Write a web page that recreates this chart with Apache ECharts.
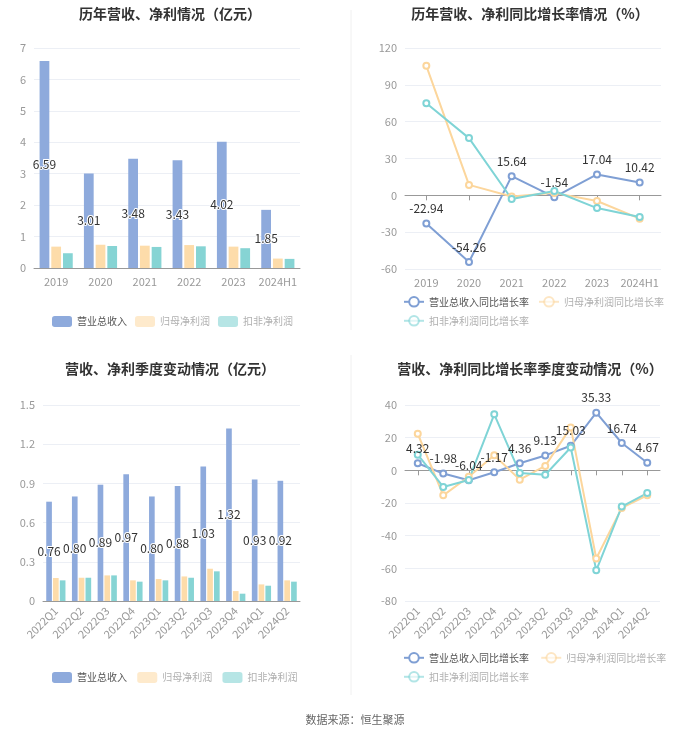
<!DOCTYPE html>
<html><head><meta charset="utf-8">
<script src="https://cdn.jsdelivr.net/npm/echarts@6/dist/echarts.min.js"></script>
<style>html,body{margin:0;padding:0;background:#fff}#c{width:700px;height:734px}</style>
</head><body><div id="c"></div>
<script>
const years = ['2019','2020','2021','2022','2023','2024H1'];
const yearRevenue = [6.59, 3.01, 3.48, 3.43, 4.02, 1.85];
const yearNetProfit = [0.68, 0.74, 0.71, 0.73, 0.68, 0.30];
const yearDeductProfit = [0.47, 0.70, 0.67, 0.69, 0.63, 0.29];
const yearRevenueGrowth = [-22.94, -54.26, 15.64, -1.54, 17.04, 10.42];
const yearNetGrowth = [105.5, 8.5, -1.0, 2.0, -4.6, -19.0];
const yearDeductGrowth = [75.0, 46.6, -3.0, 3.5, -10.4, -17.7];
const quarters = ['2022Q1','2022Q2','2022Q3','2022Q4','2023Q1','2023Q2','2023Q3','2023Q4','2024Q1','2024Q2'];
const qRevenue = [0.76, 0.80, 0.89, 0.97, 0.80, 0.88, 1.03, 1.32, 0.93, 0.92];
const qNetProfit = [0.176, 0.178, 0.196, 0.158, 0.168, 0.188, 0.247, 0.076, 0.127, 0.158];
const qDeductProfit = [0.158, 0.178, 0.196, 0.148, 0.158, 0.178, 0.227, 0.056, 0.117, 0.148];
const qRevenueGrowth = [4.32, -1.98, -6.04, -1.17, 4.36, 9.13, 15.03, 35.33, 16.74, 4.67];
const qNetGrowth = [22.4, -15.3, -3.9, 9.2, -5.7, 2.7, 26.3, -54.0, -23.0, -15.3];
const qDeductGrowth = [9.6, -10.2, -5.9, 34.3, -1.6, -2.7, 14.0, -61.2, -22.2, -13.9];
const barNames = ['营业总收入','归母净利润','扣非净利润'];
const lineNames = ['营业总收入同比增长率','归母净利润同比增长率','扣非净利润同比增长率'];

const FONT = '"Noto Sans CJK SC", "Noto Sans", sans-serif';
const C_BLUE = '#8eaadc', C_ORANGE = '#fddcaa', C_TEAL = '#86d4d4';
const L_BLUE = '#7f9fd4', L_ORANGE = '#fcd69c', L_TEAL = '#7fd4d6';
const axisLabel = {color:'#999', fontSize:11, fontFamily:FONT};
const splitLine = {show:true, lineStyle:{color:'#eceff5'}};

const chart = echarts.init(document.getElementById('c'));
const grids = [
  {left:34, top:48, width:266, height:220},
  {left:405, top:48, width:256, height:221},
  {left:43, top:405, width:257, height:196},
  {left:405, top:405, width:255, height:196}
];
function title(text, x, y){ return {text, left:x, top:y, textAlign:'center', textStyle:{fontSize:14, fontWeight:'bold', color:'#333', fontFamily:FONT}}; }
const barLabel = {show:true, position:'inside', color:'#333', fontSize:12, fontFamily:FONT, textBorderColor:'#fff', textBorderWidth:2, formatter:p=>p.value.toFixed(2)};
const lineLabel = {show:true, position:'top', color:'#333', fontSize:12, fontFamily:FONT, formatter:p=>p.value.toFixed(2)};

function barSeries(name, data, color, xi, label){
  const s = {name, type:'bar', data, xAxisIndex:xi, yAxisIndex:xi, barWidth:'22%', barGap:'20%', itemStyle:{color}};
  if(label) s.label = barLabel;
  return s;
}
function lineSeries(name, data, color, xi, label){
  const s = {name, type:'line', data, xAxisIndex:xi, yAxisIndex:xi, symbol:'emptyCircle', symbolSize:6, lineStyle:{color, width:2}, itemStyle:{color}};
  if(label) s.label = lineLabel;
  return s;
}
function legItem(n, first){
  return {name:n, textStyle:{color: first ? '#555' : '#b0b0b0'}, itemStyle:{opacity: first ? 1 : 0.6}, lineStyle:{opacity: first ? 1 : 0.6}};
}
const legText = {fontSize:10, fontFamily:FONT};
function barLegend(top, suffix){
  return {left:52, top, padding:0, itemWidth:20, itemHeight:11, itemGap:8, icon:'roundRect', textStyle:legText, selectedMode:false,
    data:barNames.map((n,i)=>legItem(n+suffix, i===0))};
}
function lineLegend(top, names, firstIdx){
  return {left:403, top, padding:0, itemWidth:20, itemHeight:12, itemGap:9, textStyle:legText, selectedMode:false,
    data:names.map((n,i)=>legItem(n, i+firstIdx===0))};
}

chart.setOption({
  animation:false,
  textStyle:{fontFamily:FONT},
  title:[
    title('历年营收、净利情况（亿元）',165,2),
    title('历年营收、净利同比增长率情况（%）',525,2),
    title('营收、净利季度变动情况（亿元）',165,357),
    title('营收、净利同比增长率季度变动情况（%）',525,357),
    {text:'数据来源：恒生聚源', left:350, top:709, textAlign:'center', textStyle:{fontSize:11, fontWeight:'normal', color:'#666', fontFamily:FONT}}
  ],
  grid: grids,
  legend:[
    barLegend(316, ''),
    lineLegend(296, [lineNames[0], lineNames[1]], 0),
    lineLegend(315, [lineNames[2]], 2),
    barLegend(672, ' '),
    lineLegend(652, [lineNames[0]+' ', lineNames[1]+' '], 0),
    lineLegend(671, [lineNames[2]+' '], 2)
  ],
  xAxis:[
    {gridIndex:0, type:'category', data:years, axisLabel:Object.assign({}, axisLabel, {interval:0}), axisTick:{show:false}, axisLine:{lineStyle:{color:'#999'}}},
    {gridIndex:1, type:'category', data:years, axisLabel:Object.assign({}, axisLabel, {interval:0}), axisTick:{show:true, alignWithLabel:true, lineStyle:{color:'#999'}}, axisLine:{onZero:true, lineStyle:{color:'#999'}}},
    {gridIndex:2, type:'category', data:quarters, axisLabel:Object.assign({}, axisLabel, {rotate:45, interval:0}), axisTick:{show:false}, axisLine:{lineStyle:{color:'#999'}}},
    {gridIndex:3, type:'category', data:quarters, axisLabel:Object.assign({}, axisLabel, {rotate:45, interval:0}), axisTick:{show:true, alignWithLabel:true, lineStyle:{color:'#999'}}, axisLine:{onZero:true, lineStyle:{color:'#999'}}}
  ],
  yAxis:[
    {gridIndex:0, type:'value', min:0, max:7, interval:1, axisLabel:axisLabel, splitLine:splitLine},
    {gridIndex:1, type:'value', min:-60, max:120, interval:30, axisLabel:axisLabel, splitLine:splitLine},
    {gridIndex:2, type:'value', min:0, max:1.5, interval:0.3, axisLabel:Object.assign({}, axisLabel, {formatter:v=>v===0?'0':v.toFixed(1)}), splitLine:splitLine},
    {gridIndex:3, type:'value', min:-80, max:40, interval:20, axisLabel:axisLabel, splitLine:splitLine}
  ],
  series:[
    barSeries(barNames[0], yearRevenue, C_BLUE, 0, true),
    barSeries(barNames[1], yearNetProfit, C_ORANGE, 0, false),
    barSeries(barNames[2], yearDeductProfit, C_TEAL, 0, false),
    lineSeries(lineNames[0], yearRevenueGrowth, L_BLUE, 1, true),
    lineSeries(lineNames[1], yearNetGrowth, L_ORANGE, 1, false),
    lineSeries(lineNames[2], yearDeductGrowth, L_TEAL, 1, false),
    barSeries(barNames[0]+' ', qRevenue, C_BLUE, 2, true),
    barSeries(barNames[1]+' ', qNetProfit, C_ORANGE, 2, false),
    barSeries(barNames[2]+' ', qDeductProfit, C_TEAL, 2, false),
    lineSeries(lineNames[0]+' ', qRevenueGrowth, L_BLUE, 3, true),
    lineSeries(lineNames[1]+' ', qNetGrowth, L_ORANGE, 3, false),
    lineSeries(lineNames[2]+' ', qDeductGrowth, L_TEAL, 3, false)
  ],
  graphic:[
    {type:'line', shape:{x1:351, y1:10, x2:351, y2:330}, style:{stroke:'#f0f0f0', lineWidth:1}},
    {type:'line', shape:{x1:351, y1:355, x2:351, y2:695}, style:{stroke:'#f0f0f0', lineWidth:1}}
  ]
});
</script></body></html>
